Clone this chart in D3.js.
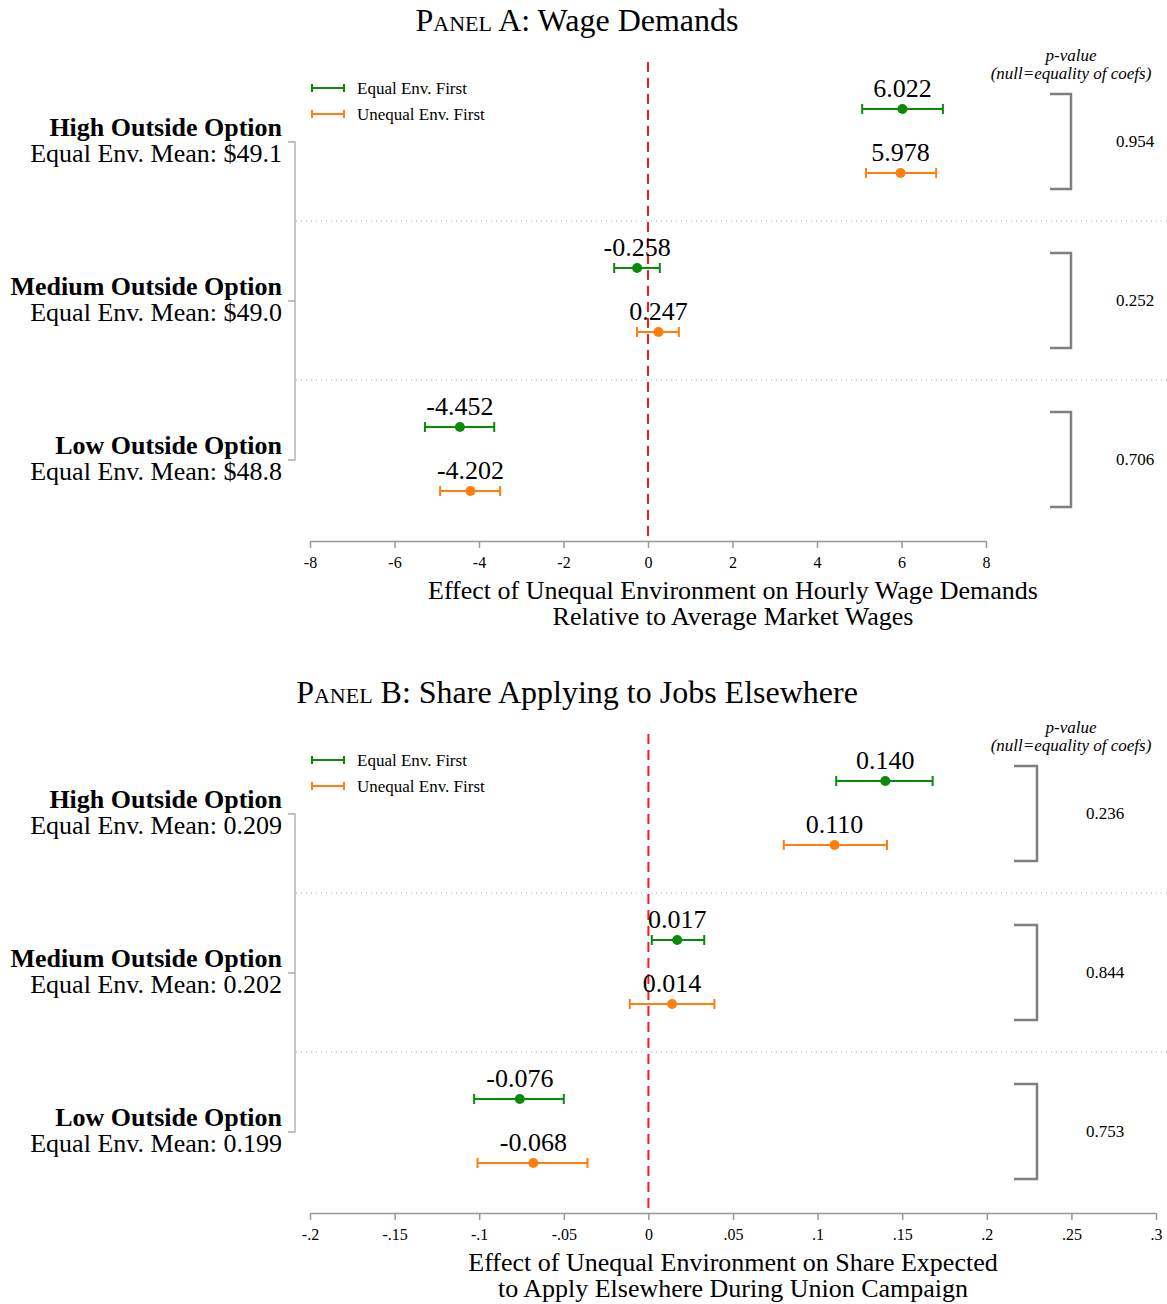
<!DOCTYPE html>
<html>
<head>
<meta charset="utf-8">
<title>Wage demands and applying elsewhere</title>
<script src="https://cdn.jsdelivr.net/npm/d3@7"></script>
<style>
body { margin: 0; background: #fff; font-family: "Liberation Serif", "Times New Roman", serif; }
.axis path, .axis line { stroke: #999; stroke-width: 1.5; }
.axis text { font-family: "Liberation Serif", serif; font-size: 16px; fill: #000; }
</style>
</head>
<body>
<script>
// group labels (top to bottom)
var groups = ["High Outside Option", "Medium Outside Option", "Low Outside Option"];
var series = ["Equal Env. First", "Unequal Env. First"];
var seriesColors = ["#0a8a0a", "#ff7f0e"];

// panel A: wage demands
var wageMeans = ["$49.1", "$49.0", "$48.8"];
var wageEqual = [6.022, -0.258, -4.452];
var wageEqualLo = [5.07, -0.80, -5.28];
var wageEqualHi = [6.98, 0.28, -3.64];
var wageUnequal = [5.978, 0.247, -4.202];
var wageUnequalLo = [5.16, -0.26, -4.92];
var wageUnequalHi = [6.82, 0.73, -3.50];
var wagePvals = ["0.954", "0.252", "0.706"];
var wageTicks = [-8, -6, -4, -2, 0, 2, 4, 6, 8];

// panel B: share applying elsewhere
var shareMeans = ["0.209", "0.202", "0.199"];
var shareEqual = [0.140, 0.017, -0.076];
var shareEqualLo = [0.111, 0.002, -0.103];
var shareEqualHi = [0.168, 0.033, -0.050];
var shareUnequal = [0.110, 0.014, -0.068];
var shareUnequalLo = [0.080, -0.011, -0.101];
var shareUnequalHi = [0.141, 0.039, -0.036];
var sharePvals = ["0.236", "0.844", "0.753"];
var shareTicks = [-0.2, -0.15, -0.1, -0.05, 0, 0.05, 0.1, 0.15, 0.2, 0.25, 0.3];

var W = 1167, H = 1304;
var svg = d3.select("body").append("svg")
    .attr("width", W)
    .attr("height", H);

function stataFmt(v) {
    // Stata style: no leading zero, plain hyphen
    var s = d3.format("~g")(Math.round(v * 1000) / 1000);
    s = s.replace("\u2212", "-");
    s = s.replace(/^(-?)0\./, "$1.");
    return s;
}

function drawPanel(cfg) {
    var g = svg.append("g").attr("transform", "translate(0," + cfg.top + ")");

    var x = d3.scaleLinear().domain(cfg.domain).range([310, cfg.xRight]);
    var y = d3.scaleBand().domain(groups).range([62, 539]);
    var yIn = d3.scalePoint().domain(series).range([47, 111]);

    // title with small caps for "Panel"
    g.append("text")
        .attr("x", 577).attr("y", 31)
        .attr("text-anchor", "middle")
        .style("font-size", "32px")
        .call(function(t) {
            t.append("tspan").style("font-variant", "small-caps").text("Panel");
            t.append("tspan").text(" " + cfg.letter + ": " + cfg.title);
        });

    // dotted separators between groups
    groups.slice(1).forEach(function(d) {
        g.append("line")
            .attr("x1", 296).attr("x2", W)
            .attr("y1", y(d)).attr("y2", y(d))
            .attr("stroke", "#aaa")
            .attr("stroke-width", 1)
            .attr("stroke-dasharray", "1,4");
    });

    // left bracket joining group labels
    var lx = 295;
    var ys = groups.map(function(d) { return y(d) + y.bandwidth() / 2 + 0.5; });
    g.append("path")
        .attr("d", "M" + (lx - 7) + "," + ys[0] + "H" + lx + "V" + ys[2] + "H" + (lx - 7)
            + "M" + (lx - 7) + "," + ys[1] + "H" + lx)
        .attr("fill", "none")
        .attr("stroke", "#aaa")
        .attr("stroke-width", 1.3);

    // group labels
    groups.forEach(function(d, i) {
        var cy = y(d) + y.bandwidth() / 2;
        g.append("text")
            .attr("x", 282).attr("y", cy - 6)
            .attr("text-anchor", "end")
            .style("font-size", "26px").style("font-weight", "bold")
            .text(d);
        g.append("text")
            .attr("x", 282).attr("y", cy + 20)
            .attr("text-anchor", "end")
            .style("font-size", "26px")
            .text("Equal Env. Mean: " + cfg.means[i]);
    });

    // x axis
    var axis = d3.axisBottom(x)
        .tickValues(cfg.ticks)
        .tickSize(7)
        .tickSizeOuter(0)
        .tickFormat(stataFmt);
    var ax = g.append("g")
        .attr("class", "axis")
        .attr("transform", "translate(0,541)")
        .call(axis);
    ax.selectAll(".tick text").attr("dy", "1.05em");

    // zero line
    g.append("line")
        .attr("x1", x(0)).attr("x2", x(0))
        .attr("y1", 62).attr("y2", 541)
        .attr("stroke", "#ff1a1a")
        .attr("stroke-width", 2)
        .attr("stroke-dasharray", "10,6");

    // axis title
    cfg.xlabel.forEach(function(line, i) {
        g.append("text")
            .attr("x", 733).attr("y", 599 + i * 26)
            .attr("text-anchor", "middle")
            .style("font-size", "26px")
            .text(line);
    });

    // coefficient rows
    var rows = [];
    groups.forEach(function(d, i) {
        rows.push({ group: d, s: 0, v: cfg.eq[i], lo: cfg.eqLo[i], hi: cfg.eqHi[i] });
        rows.push({ group: d, s: 1, v: cfg.uneq[i], lo: cfg.uneqLo[i], hi: cfg.uneqHi[i] });
    });

    var row = g.selectAll(".row")
        .data(rows)
        .enter().append("g")
        .attr("class", "row")
        .attr("transform", function(d) { return "translate(0," + (y(d.group) + yIn(series[d.s])) + ")"; });

    row.append("line")
        .attr("x1", function(d) { return x(d.lo); })
        .attr("x2", function(d) { return x(d.hi); })
        .attr("stroke", function(d) { return seriesColors[d.s]; })
        .attr("stroke-width", 2);
    row.append("path")
        .attr("d", function(d) {
            return "M" + x(d.lo) + ",-5V5M" + x(d.hi) + ",-5V5";
        })
        .attr("stroke", function(d) { return seriesColors[d.s]; })
        .attr("stroke-width", 2);
    row.append("circle")
        .attr("cx", function(d) { return x(d.v); })
        .attr("r", 5)
        .attr("fill", function(d) { return seriesColors[d.s]; });
    row.append("text")
        .attr("x", function(d) { return x(d.v); })
        .attr("y", -12)
        .attr("text-anchor", "middle")
        .style("font-size", "26px")
        .text(function(d) { return d3.format(".3f")(d.v).replace("\u2212", "-"); });

    // legend
    var legend = g.selectAll(".legend")
        .data(series)
        .enter().append("g")
        .attr("class", "legend")
        .attr("transform", function(d, i) { return "translate(0," + (88 + i * 26) + ")"; });
    legend.append("path")
        .attr("d", "M312,-4V4M312,0H344M344,-4V4")
        .attr("fill", "none")
        .attr("stroke", function(d, i) { return seriesColors[i]; })
        .attr("stroke-width", 2);
    legend.append("text")
        .attr("x", 357).attr("y", 6)
        .style("font-size", "17px")
        .text(function(d) { return d; });

    // p-value header
    g.append("text")
        .attr("x", 1071).attr("y", 61)
        .attr("text-anchor", "middle")
        .style("font-size", "17px").style("font-style", "italic")
        .text("p-value");
    g.append("text")
        .attr("x", 1071).attr("y", 79)
        .attr("text-anchor", "middle")
        .style("font-size", "17px").style("font-style", "italic")
        .text("(null=equality of coefs)");

    // p-value brackets
    groups.forEach(function(d, i) {
        var y0 = y(d) + 32, y1 = y(d) + 127;
        g.append("path")
            .attr("d", "M" + cfg.brL + "," + y0 + "H" + cfg.brR + "V" + y1 + "H" + cfg.brL)
            .attr("fill", "none")
            .attr("stroke", "#808080")
            .attr("stroke-width", 2.5);
        g.append("text")
            .attr("x", cfg.pX).attr("y", (y0 + y1) / 2 + 5)
            .attr("text-anchor", "middle")
            .style("font-size", "17px")
            .text(cfg.pvals[i]);
    });
}

drawPanel({
    top: 0, letter: "A", title: "Wage Demands",
    domain: [-8, 8], xRight: 986, ticks: wageTicks,
    means: wageMeans,
    eq: wageEqual, eqLo: wageEqualLo, eqHi: wageEqualHi,
    uneq: wageUnequal, uneqLo: wageUnequalLo, uneqHi: wageUnequalHi,
    pvals: wagePvals, brL: 1050, brR: 1071, pX: 1135,
    xlabel: ["Effect of Unequal Environment on Hourly Wage Demands", "Relative to Average Market Wages"]
});

drawPanel({
    top: 672, letter: "B", title: "Share Applying to Jobs Elsewhere",
    domain: [-0.2, 0.3], xRight: 1156, ticks: shareTicks,
    means: shareMeans,
    eq: shareEqual, eqLo: shareEqualLo, eqHi: shareEqualHi,
    uneq: shareUnequal, uneqLo: shareUnequalLo, uneqHi: shareUnequalHi,
    pvals: sharePvals, brL: 1014, brR: 1037, pX: 1105,
    xlabel: ["Effect of Unequal Environment on Share Expected", "to Apply Elsewhere During Union Campaign"]
});
</script>
</body>
</html>
